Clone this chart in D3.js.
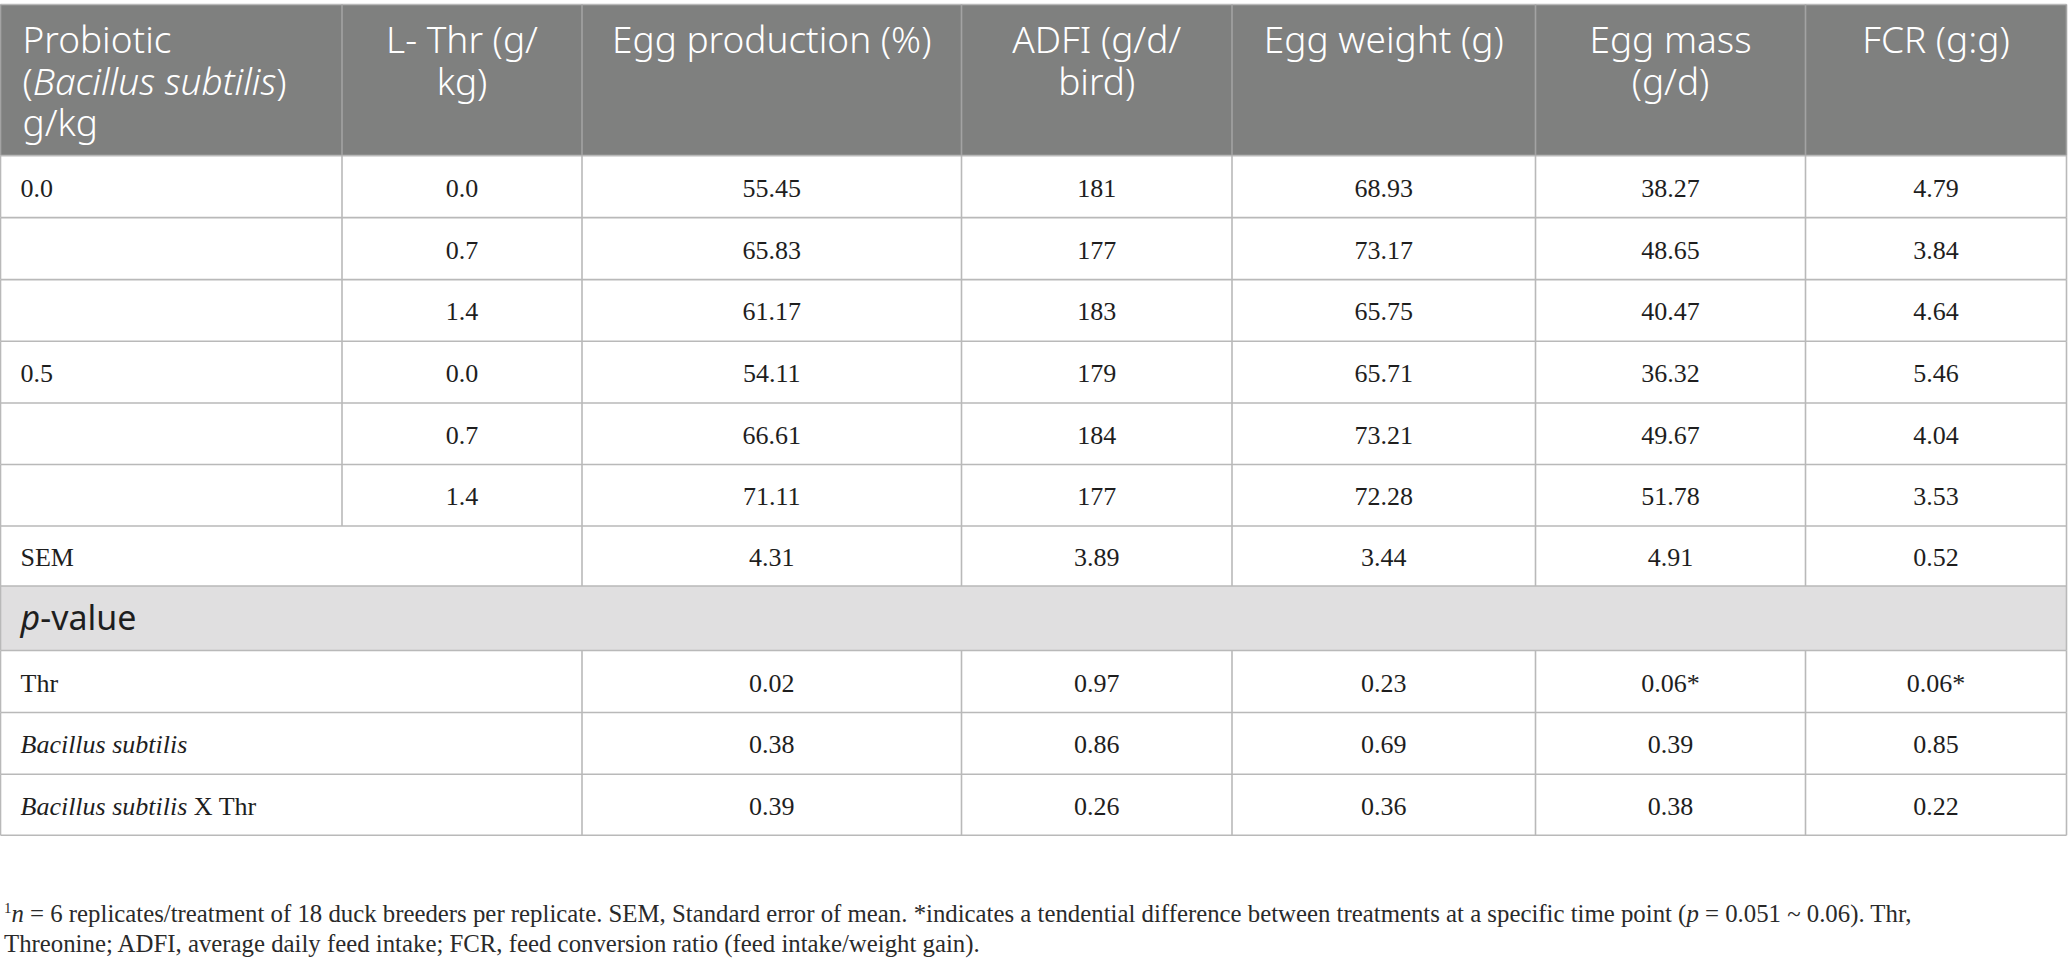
<!DOCTYPE html>
<html>
<head>
<meta charset="utf-8">
<script src="https://cdn.jsdelivr.net/npm/d3@7"></script>
<style>
  body { margin: 0; background: #fff; }
  svg { display: block; }
</style>
</head>
<body>
<svg id="chart" width="2068" height="975"></svg>
<script>
// header lines per column, each line is a list of [text, italic] pieces
var headers = [
	[[['Probiotic', 0]], [['(', 0], ['Bacillus subtilis', 1], [')', 0]], [['g/kg', 0]]],
	[[['L- Thr (g/', 0]], [['kg)', 0]]],
	[[['Egg production (%)', 0]]],
	[[['ADFI (g/d/', 0]], [['bird)', 0]]],
	[[['Egg weight (g)', 0]]],
	[[['Egg mass', 0]], [['(g/d)', 0]]],
	[[['FCR (g:g)', 0]]]
];

var probiotic = ['0.0', '', '', '0.5', '', ''];
var thrLevel = ['0.0', '0.7', '1.4', '0.0', '0.7', '1.4'];
var eggProduction = ['55.45', '65.83', '61.17', '54.11', '66.61', '71.11'];
var adfi = ['181', '177', '183', '179', '184', '177'];
var eggWeight = ['68.93', '73.17', '65.75', '65.71', '73.21', '72.28'];
var eggMass = ['38.27', '48.65', '40.47', '36.32', '49.67', '51.78'];
var fcr = ['4.79', '3.84', '4.64', '5.46', '4.04', '3.53'];

var semValues = ['4.31', '3.89', '3.44', '4.91', '0.52'];
var pLabels = [[['Thr', 0]], [['Bacillus subtilis', 1]], [['Bacillus subtilis', 1], [' X Thr', 0]]];
var pThr = ['0.02', '0.97', '0.23', '0.06*', '0.06*'];
var pBacillus = ['0.38', '0.86', '0.69', '0.39', '0.85'];
var pInteraction = ['0.39', '0.26', '0.36', '0.38', '0.22'];

var footLines = [
	[['1', 'sup'], ['n', 1], [' = 6 replicates/treatment of 18 duck breeders per replicate. SEM, Standard error of mean. *indicates a tendential difference between treatments at a specific time point (', 0], ['p', 1], [' = 0.051 ~ 0.06). Thr,', 0]],
	[['Threonine; ADFI, average daily feed intake; FCR, feed conversion ratio (feed intake/weight gain).', 0]]
];

// layout
var colWidths = [341.5, 240, 379.5, 270.5, 303.5, 270, 261];
var rowHeights = [62, 62, 61.7, 61.7, 61.5, 61.5, 60, 64.5, 62, 61.8, 61];
var tableLeft = 0.5, headTop = 4.5, headBottom = 155.6;

var colEdges = [tableLeft].concat(Array.from(d3.cumsum(colWidths), function(d){ return d + tableLeft }));
var rowEdges = [headBottom].concat(Array.from(d3.cumsum(rowHeights), function(d){ return d + headBottom }));

var xCol = d3.scaleOrdinal().domain(d3.range(colWidths.length)).range(colEdges.slice(0, -1));
var yRow = d3.scaleOrdinal().domain(d3.range(rowHeights.length)).range(rowEdges.slice(0, -1));

var sans = "'Noto Sans', 'Open Sans', sans-serif";
var serif = "'Liberation Serif', 'Times New Roman', serif";
var gridColor = '#b9b9b9';
var textColor = '#1e1e1e';

var svg = d3.select('#chart');

function richText(g, pieces, x, y, anchor, font, size, color) {
	var t = g.append('text')
		.attr('x', x).attr('y', y)
		.attr('text-anchor', anchor)
		.attr('font-family', font)
		.attr('font-size', size)
		.attr('fill', color);
	pieces.forEach(function(p){
		var s = t.append('tspan').text(p[0]);
		if (p[1] === 1) s.attr('font-style', 'italic');
		if (p[1] === 'sup') s.attr('font-size', size * 0.6).attr('dy', -size * 0.38);
		if (p[1] !== 'sup' && pieces[0][1] === 'sup' && p === pieces[1]) s.attr('dy', size * 0.38);
	});
	return t;
}

// header background
svg.append('rect')
	.attr('x', colEdges[0]).attr('y', headTop)
	.attr('width', colEdges[colEdges.length - 1] - colEdges[0])
	.attr('height', headBottom - headTop)
	.attr('fill', '#7f807f');

// p-value band
svg.append('rect')
	.attr('x', colEdges[0]).attr('y', yRow(7))
	.attr('width', colEdges[colEdges.length - 1] - colEdges[0])
	.attr('height', rowHeights[7])
	.attr('fill', '#e0dfe0');

// header text
var headG = svg.append('g');
headers.forEach(function(lines, c){
	var left = c === 0;
	var x = left ? xCol(c) + 22 : xCol(c) + colWidths[c] / 2;
	lines.forEach(function(line, i){
		richText(headG, line, x, 53 + i * 41.5, left ? 'start' : 'middle', sans, 37, '#ffffff')
			.attr('font-weight', 300);
	});
});

// body rows: first cell pieces, whether it spans the first two columns, values
var bodyRows = [];
probiotic.forEach(function(p, i){
	bodyRows.push({ first: [[p, 0]], span: false, cells: [thrLevel[i], eggProduction[i], adfi[i], eggWeight[i], eggMass[i], fcr[i]] });
});
bodyRows.push({ first: [['SEM', 0]], span: true, cells: semValues });
bodyRows.push({ pvalue: true });
bodyRows.push({ first: pLabels[0], span: true, cells: pThr });
bodyRows.push({ first: pLabels[1], span: true, cells: pBacillus });
bodyRows.push({ first: pLabels[2], span: true, cells: pInteraction });

var bodyG = svg.append('g');
bodyRows.forEach(function(r, i){
	var cy = yRow(i) + rowHeights[i] / 2;
	if (r.pvalue) {
		richText(bodyG, [['p', 1], ['-value', 0]], xCol(0) + 20, cy + 12, 'start', sans, 34, textColor);
		return;
	}
	richText(bodyG, r.first, xCol(0) + 20, cy + 10, 'start', serif, 26, textColor);
	var start = r.span ? 2 : 1;
	r.cells.forEach(function(v, k){
		var c = start + k;
		bodyG.append('text')
			.attr('x', xCol(c) + colWidths[c] / 2)
			.attr('y', cy + 10)
			.attr('text-anchor', 'middle')
			.attr('font-family', serif)
			.attr('font-size', 26)
			.attr('fill', textColor)
			.text(v);
	});
});

// grid lines
var gridG = svg.append('g').attr('stroke', gridColor).attr('stroke-width', 1.6).attr('fill', 'none');
var right = colEdges[colEdges.length - 1];
[headTop].concat(rowEdges).forEach(function(y){
	gridG.append('line').attr('x1', colEdges[0]).attr('x2', right).attr('y1', y).attr('y2', y);
});
// header verticals
colEdges.forEach(function(x){
	gridG.append('line').attr('x1', x).attr('x2', x).attr('y1', headTop).attr('y2', headBottom)
		.attr('stroke', '#a3a3a3');
});
// body verticals
bodyRows.forEach(function(r, i){
	var y1 = yRow(i), y2 = y1 + rowHeights[i];
	colEdges.forEach(function(x, c){
		var outer = c === 0 || c === colEdges.length - 1;
		if (!outer) {
			if (r.pvalue) return;
			if (r.span && c === 1) return;
		}
		gridG.append('line').attr('x1', x).attr('x2', x).attr('y1', y1).attr('y2', y2);
	});
});

// footnote
var footG = svg.append('g');
footLines.forEach(function(line, i){
	richText(footG, line, 4, 922 + i * 30, 'start', serif, 24.8, '#2a2a2a');
});
</script>
</body>
</html>
